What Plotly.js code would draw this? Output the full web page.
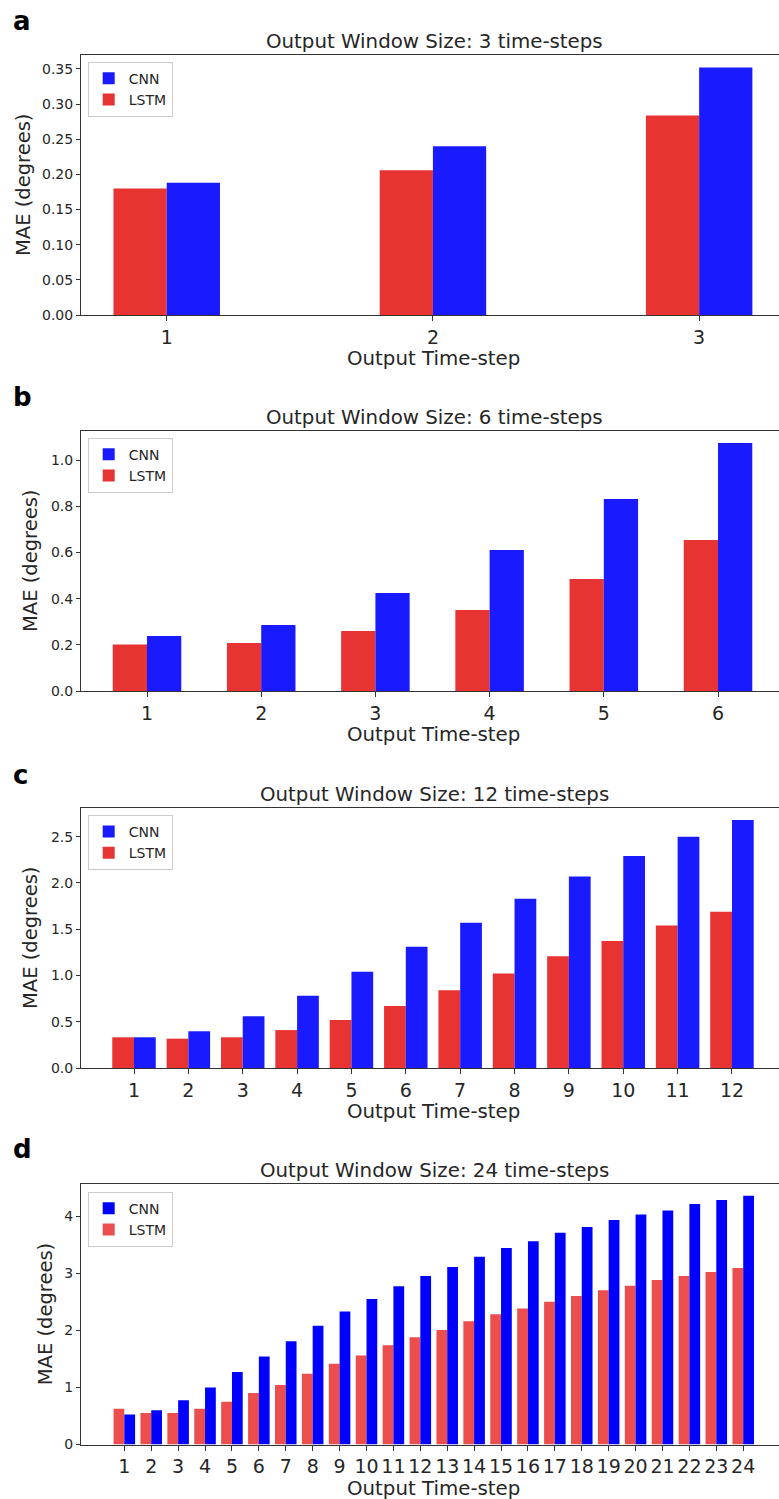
<!DOCTYPE html>
<html>
<head>
<meta charset="utf-8">
<script src="https://cdn.plot.ly/plotly-3.0.1.min.js"></script>
<style>html,body{margin:0;padding:0;background:#fff;overflow:hidden}</style>
</head>
<body>
<div id="chart" style="width:779px;height:1499px"></div>
<script>
// ---- data ----
const steps3 = [1, 2, 3];
const cnn3 = [0.188, 0.240, 0.352];
const lstm3 = [0.180, 0.206, 0.284];

const steps6 = [1, 2, 3, 4, 5, 6];
const cnn6 = [0.238, 0.286, 0.425, 0.611, 0.832, 1.075];
const lstm6 = [0.202, 0.208, 0.260, 0.351, 0.485, 0.655];

const steps12 = [1, 2, 3, 4, 5, 6, 7, 8, 9, 10, 11, 12];
const cnn12 = [0.332, 0.397, 0.559, 0.78, 1.04, 1.31, 1.57, 1.83, 2.07, 2.29, 2.50, 2.68];
const lstm12 = [0.332, 0.317, 0.332, 0.41, 0.52, 0.67, 0.84, 1.02, 1.207, 1.373, 1.54, 1.69];

const steps24 = [1, 2, 3, 4, 5, 6, 7, 8, 9, 10, 11, 12, 13, 14, 15, 16, 17, 18, 19, 20, 21, 22, 23, 24];
const cnn24 = [0.525, 0.60, 0.777, 0.998, 1.268, 1.541, 1.807, 2.08, 2.33, 2.55, 2.77, 2.95,
               3.11, 3.29, 3.44, 3.56, 3.71, 3.81, 3.93, 4.03, 4.10, 4.21, 4.28, 4.355];
const lstm24 = [0.625, 0.55, 0.55, 0.625, 0.748, 0.900, 1.04, 1.24, 1.415, 1.56, 1.74, 1.88,
                2.005, 2.16, 2.28, 2.38, 2.50, 2.60, 2.70, 2.78, 2.88, 2.95, 3.02, 3.09];

const panelLetters = ["a", "b", "c", "d"];
const panelTitles = ["Output Window Size: 3 time-steps", "Output Window Size: 6 time-steps",
                     "Output Window Size: 12 time-steps", "Output Window Size: 24 time-steps"];
const xTitle = "Output Time-step";
const yTitle = "MAE (degrees)";
const seriesNames = ["CNN", "LSTM"];

// ---- layout helpers ----
const W = 779, H = 1499;
const FONT = "DejaVu Sans, Liberation Sans, sans-serif";
const px = x => x / W;
const py = y => 1 - y / H;

const panels = [
  {x: steps3, cnn: cnn3, lstm: lstm3, top: 55, bot: 315, xr: [0.678, 3.30], yr: [0, 0.3699], dt: 0.05, fmt: ".2f", bw: 0.2,
   red: "#e83333", blue: "#1a1aff", ylx: 24, letterY: 21, titleY: 41, legTop: 61.7},
  {x: steps6, cnn: cnn6, lstm: lstm6, top: 431, bot: 691, xr: [0.422, 6.534], yr: [0, 1.127], dt: 0.2, fmt: ".1f", bw: 0.3,
   red: "#e83333", blue: "#1a1aff", ylx: 30, letterY: 397, titleY: 417, legTop: 437.7},
  {x: steps12, cnn: cnn12, lstm: lstm12, top: 808, bot: 1068, xr: [0.025, 12.865], yr: [0, 2.810], dt: 0.5, fmt: ".1f", bw: 0.4,
   red: "#e83333", blue: "#1a1aff", ylx: 30, letterY: 775, titleY: 794, legTop: 815},
  {x: steps24, cnn: cnn24, lstm: lstm24, top: 1184, bot: 1444.5, xr: [-0.61, 25.33], yr: [0, 4.562], dt: 1, fmt: "d", bw: 0.4,
   red: "#ec4d4d", blue: "#0000ff", ylx: 45, letterY: 1149, titleY: 1170, legTop: 1191.7}
];

const traces = [];
const layout = {
  width: W, height: H,
  margin: {l: 0, r: 0, t: 0, b: 0},
  paper_bgcolor: "#ffffff", plot_bgcolor: "#ffffff",
  font: {family: FONT, color: "#262626"},
  barmode: "overlay",
  annotations: []
};

panels.forEach((p, i) => {
  const n = i === 0 ? "" : String(i + 1);
  const xa = "x" + n, ya = "y" + n;
  const leg = "legend" + n;
  traces.push({
    type: "bar", name: seriesNames[1], x: p.x, y: p.lstm, xaxis: xa, yaxis: ya,
    width: p.bw, offset: -p.bw, marker: {color: p.red, line: {width: 0}}, legend: leg, hoverinfo: "y"
  });
  traces.push({
    type: "bar", name: seriesNames[0], x: p.x, y: p.cnn, xaxis: xa, yaxis: ya,
    width: p.bw, offset: 0, marker: {color: p.blue, line: {width: 0}}, legend: leg, hoverinfo: "y"
  });
  layout["xaxis" + n] = {
    domain: [px(81), 1], anchor: ya, range: p.xr,
    tickvals: p.x, ticktext: p.x.map(String),
    ticks: "outside", ticklen: 5, tickwidth: 1, tickcolor: "#333",
    showline: true, linecolor: "#333", linewidth: 1, mirror: true,
    showgrid: false, zeroline: false,
    tickfont: {size: 19, family: FONT, color: "#262626"}
  };
  layout["yaxis" + n] = {
    domain: [py(p.bot), py(p.top)], anchor: xa, range: p.yr,
    dtick: p.dt, tick0: 0, tickformat: p.fmt,
    ticks: "outside", ticklen: 4, tickwidth: 1, tickcolor: "#333",
    showline: true, linecolor: "#333", linewidth: 1, mirror: false,
    showgrid: false, zeroline: false,
    tickfont: {size: 14, family: FONT, color: "#262626"}
  };
  layout[leg] = {
    x: px(87.7), y: py(p.legTop), xanchor: "left", yanchor: "top",
    traceorder: "reversed", bgcolor: "#ffffff", bordercolor: "#cccccc", borderwidth: 1,
    font: {size: 14, family: FONT, color: "#262626"},
    itemwidth: 30, tracegroupgap: 0
  };
  // panel letter
  layout.annotations.push({
    text: "<b>" + panelLetters[i] + "</b>", xref: "paper", yref: "paper",
    x: px(11), y: py(p.letterY), xanchor: "left", yanchor: "middle", showarrow: false,
    font: {size: 26, family: FONT, color: "#000"}
  });
  // subplot title
  layout.annotations.push({
    text: panelTitles[i], xref: "paper", yref: "paper",
    x: px(434), y: py(p.titleY), xanchor: "center", yanchor: "middle", showarrow: false,
    font: {size: 19.8, family: FONT, color: "#262626"}
  });
  // x title
  layout.annotations.push({
    text: xTitle, xref: "paper", yref: "paper",
    x: px(433), y: py(p.bot + 43.5), xanchor: "center", yanchor: "middle", showarrow: false,
    font: {size: 19.8, family: FONT, color: "#262626"}
  });
  // y title
  layout.annotations.push({
    text: yTitle, xref: "paper", yref: "paper", textangle: -90,
    x: px(p.ylx), y: py((p.top + p.bot) / 2), xanchor: "center", yanchor: "middle", showarrow: false,
    font: {size: 19.5, family: FONT, color: "#262626"}
  });
});

Plotly.newPlot("chart", traces, layout, {displayModeBar: false, staticPlot: true});
</script>
</body>
</html>
